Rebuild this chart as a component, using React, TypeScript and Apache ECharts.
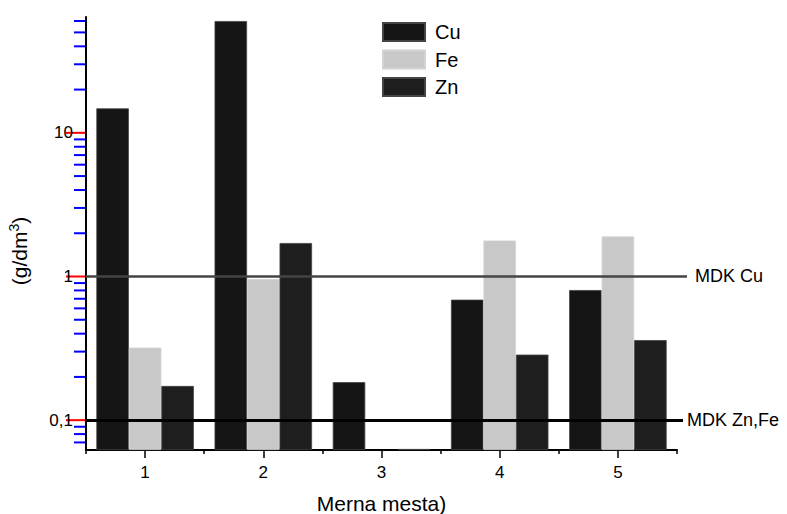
import React, { useEffect, useRef } from 'react';
import * as echarts from 'echarts';

const categories = ['1', '2', '3', '4', '5'];
const cuValues = [14.8, 60, 0.184, 0.69, 0.805];
const feValues: (number | null)[] = [0.32, 0.96, null, 1.78, 1.9];
const znValues = [0.173, 1.71, 0.063, 0.286, 0.361];
const mdkCuValue = 1;
const mdkZnFeValue = 0.1;
const yMin = 0.062;
const yMax = 64;
const majorTicks = [0.1, 1, 10];
const majorLabels = ['0,1', '1', '10'];
const minorTicks = [0.07, 0.08, 0.09, 0.2, 0.3, 0.4, 0.5, 0.6, 0.7, 0.8, 0.9, 2, 3, 4, 5, 6, 7, 8, 9, 20, 30, 40, 50, 60];

const FONT = '"Liberation Sans", Arial, sans-serif';
const GRID_LEFT = 86;

export default function App() {
  const ref = useRef<HTMLDivElement>(null);
  useEffect(() => {
    const el = ref.current!;
    const chart = echarts.init(el, null, { renderer: 'svg' });
    const option: any = {
      animation: false,
      textStyle: { fontFamily: FONT },
      grid: { left: GRID_LEFT, right: 110, top: 17, bottom: 64, containLabel: false, outerBoundsMode: 'none' },
      legend: {
        orient: 'vertical',
        left: 382,
        top: 22,
        padding: 0,
        itemWidth: 42,
        itemHeight: 18,
        itemGap: 7.5,
        icon: 'rect',
        data: ['Cu', 'Fe', 'Zn'],
        textStyle: { fontSize: 20, color: '#000', fontFamily: FONT, padding: [0, 0, 0, 5] },
      },
      xAxis: [
        {
          type: 'category',
          data: categories,
          gridIndex: 0,
          axisLine: { lineStyle: { color: '#000', width: 2 } },
          axisTick: { show: true, alignWithLabel: false, interval: 0, length: 4, lineStyle: { color: '#000', width: 1.5 } },
          axisLabel: { fontSize: 17, color: '#000', margin: 14, fontFamily: FONT },
          name: 'Merna mesta)',
          nameLocation: 'middle',
          nameGap: 43,
          nameTextStyle: { fontSize: 21, color: '#000', fontFamily: FONT },
          splitLine: { show: false },
        },
        {
          type: 'category',
          data: categories,
          gridIndex: 0,
          position: 'bottom',
          axisLine: { show: false },
          axisTick: { show: true, alignWithLabel: true, interval: 0, length: 8, lineStyle: { color: '#000', width: 1.5 } },
          axisLabel: { show: false },
          splitLine: { show: false },
        },
      ],
      yAxis: {
        type: 'log',
        logBase: 10,
        min: yMin,
        max: yMax,
        startValue: yMin,
        axisLine: { show: true, lineStyle: { color: '#000', width: 2 } },
        axisTick: { show: false },
        splitLine: { show: false },
        axisLabel: {
          fontSize: 17,
          color: '#000',
          margin: 13,
          fontFamily: FONT,
          showMinLabel: false,
          showMaxLabel: false,
          formatter: (v: number) => {
            for (let i = 0; i < majorTicks.length; i++) {
              if (Math.abs(v - majorTicks[i]) / majorTicks[i] < 1e-6) return majorLabels[i];
            }
            return '';
          },
        },
      },
      series: [
        {
          name: 'Cu',
          type: 'bar',
          data: cuValues,
          barWidth: 32.5,
          barGap: '0%',
          itemStyle: { color: '#151515', borderColor: '#444', borderWidth: 0.8 },
          markLine: {
            silent: true,
            symbol: 'none',
            data: [
              [
                {
                  x: GRID_LEFT,
                  yAxis: mdkCuValue,
                  lineStyle: { color: '#444', width: 2.5, type: 'solid' },
                  label: { show: true, position: 'end', formatter: 'MDK Cu', distance: 8, color: '#000', fontSize: 18, fontFamily: FONT },
                },
                { x: 687, yAxis: mdkCuValue },
              ],
              [
                {
                  x: GRID_LEFT,
                  yAxis: mdkZnFeValue,
                  lineStyle: { color: '#000', width: 3, type: 'solid' },
                  label: { show: true, position: 'end', formatter: 'MDK Zn,Fe', distance: 4, color: '#000', fontSize: 18, fontFamily: FONT },
                },
                { x: 683, yAxis: mdkZnFeValue },
              ],
            ],
          },
        },
        {
          name: 'Fe',
          type: 'bar',
          data: feValues,
          barWidth: 32.5,
          barGap: '0%',
          itemStyle: { color: '#c8c8c8', borderColor: '#d2d2d2', borderWidth: 0.8 },
        },
        {
          name: 'Zn',
          type: 'bar',
          data: znValues,
          barWidth: 32.5,
          barGap: '0%',
          itemStyle: { color: '#1e1e1e', borderColor: '#444', borderWidth: 0.8 },
        },
      ],
    };
    chart.setOption(option);

    const graphics: any[] = [];
    const addTick = (v: number, len: number, color: string) => {
      const y = chart.convertToPixel({ yAxisIndex: 0 }, v) as number;
      graphics.push({
        type: 'line',
        shape: { x1: GRID_LEFT - len, y1: y, x2: GRID_LEFT, y2: y },
        style: { stroke: color, lineWidth: 2 },
      });
    };
    majorTicks.forEach((v) => addTick(v, 20, '#f00'));
    minorTicks.forEach((v) => addTick(v, 12, '#00f'));
    graphics.push({
      type: 'text',
      x: 19,
      y: 251,
      rotation: Math.PI / 2,
      style: {
        text: '(g/dm{sup|3})',
        fill: '#000',
        fontSize: 21,
        fontFamily: FONT,
        align: 'center',
        verticalAlign: 'middle',
        rich: {
          sup: { fontSize: 14, fontFamily: FONT, fill: '#000', verticalAlign: 'top', lineHeight: 24 },
        },
      },
    });
    chart.setOption({ graphic: graphics });

    return () => chart.dispose();
  }, []);
  return <div ref={ref} style={{ position: 'absolute', left: 0, top: 0, width: 787, height: 514 }} />;
}
